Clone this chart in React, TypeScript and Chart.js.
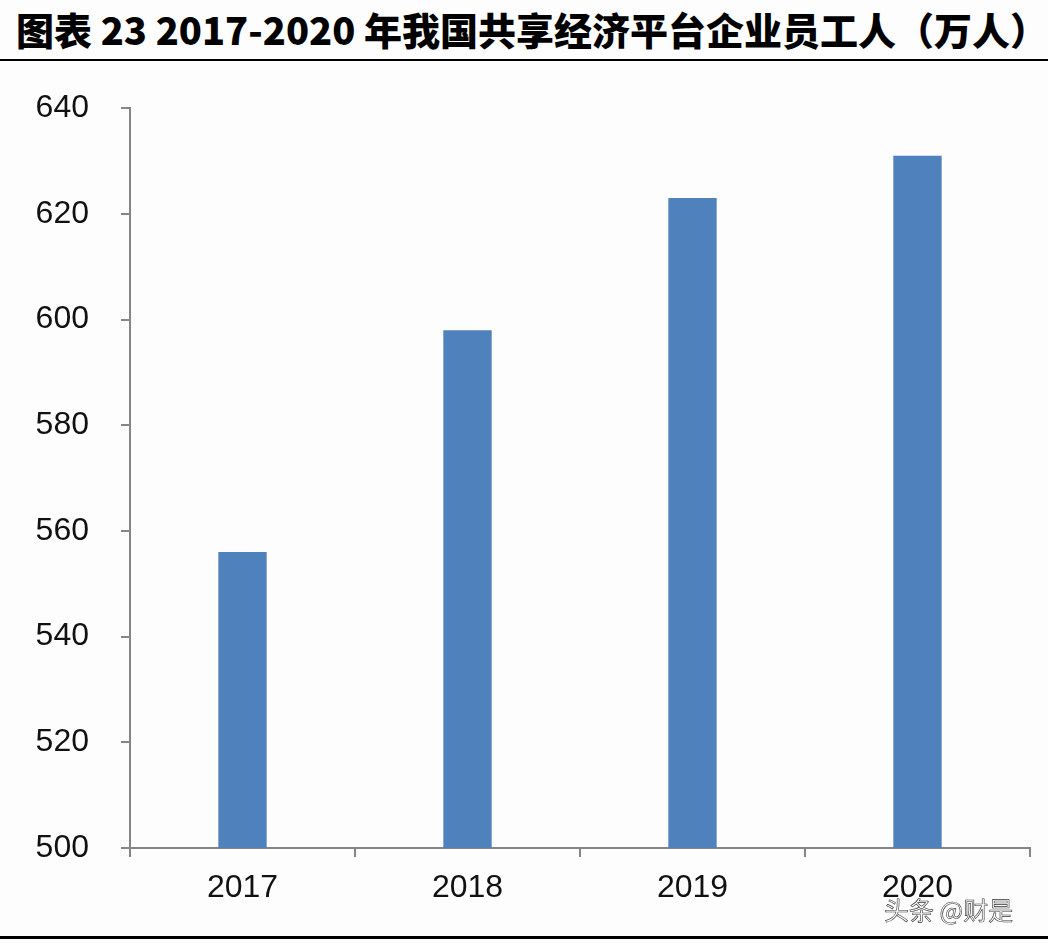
import { useEffect, useRef } from 'react'
import { Chart, registerables, type ChartConfiguration } from 'chart.js'

Chart.register(...registerables)

// 2017-2020 共享经济平台企业员工人数（万人）
const years = ['2017', '2018', '2019', '2020']
const staff = [556, 598, 623, 631]
const yTicks = [500, 520, 540, 560, 580, 600, 620, 640]

const AXIS = '#858585'
const FONT = '"Liberation Sans", Arial, sans-serif'

export default function App() {
  const canvasRef = useRef<HTMLCanvasElement>(null)

  useEffect(() => {
    document.body.style.margin = '0'
    if (!canvasRef.current) return

    const config: ChartConfiguration<'bar'> = {
      type: 'bar',
      data: {
        labels: years,
        datasets: [{
          label: '员工人数',
          data: staff,
          backgroundColor: '#4F81BD',
          borderWidth: 0,
          categoryPercentage: 1,
          barPercentage: 0.215,
        }],
      },
      options: {
        responsive: false,
        animation: false,
        layout: { padding: { top: 40, right: 18, left: 0, bottom: 0 } },
        scales: {
          x: {
            grid: { display: true, drawOnChartArea: false, offset: true, tickLength: 9, tickColor: AXIS, lineWidth: 2 },
            border: { color: AXIS, width: 2 },
            ticks: { color: '#111', font: { size: 32, family: FONT }, padding: 12 },
            afterFit: (s: any) => { s.height = 92 },
          },
          y: {
            min: yTicks[0],
            max: yTicks[yTicks.length - 1],
            afterBuildTicks: (s: any) => { s.ticks = yTicks.map(v => ({ value: v })) },
            grid: { display: true, drawOnChartArea: false, tickLength: 9, tickColor: AXIS, lineWidth: 2 },
            border: { color: AXIS, width: 2 },
            ticks: { color: '#111', font: { size: 32, family: FONT }, padding: 32 },
            afterFit: (s: any) => { s.width = 130 },
          },
        },
        plugins: {
          legend: { display: false },
          tooltip: { enabled: false },
        },
      },
    }
    const chart = new Chart(canvasRef.current, config)
    return () => { chart.destroy() }
  }, [])

  return (
    <div style={{ position: 'relative', width: 1048, height: 944, background: '#fdfdfe', overflow: 'hidden' }}>
      <div
        style={{
          position: 'absolute',
          left: 16,
          top: 4,
          fontFamily: '"Noto Sans CJK SC", sans-serif',
          fontWeight: 900,
          fontSize: 38,
          color: '#000',
          whiteSpace: 'nowrap',
          lineHeight: '50px',
        }}
      >
        图表 23 2017-2020 年我国共享经济平台企业员工人（万人）
      </div>
      <canvas ref={canvasRef} width={1048} height={883} style={{ position: 'absolute', left: 0, top: 57 }} />
      <div style={{ position: 'absolute', left: 0, top: 59, width: 1048, height: 2, background: '#000' }} />
      <div
        style={{
          position: 'absolute',
          left: 884,
          top: 892,
          fontFamily: '"Noto Sans CJK SC", sans-serif',
          fontSize: 25,
          color: '#fff',
          WebkitTextStroke: '0.6px #333',
          whiteSpace: 'nowrap',
          lineHeight: '34px',
        }}
      >
        头条 @财是
      </div>
      <div style={{ position: 'absolute', left: 0, top: 936, width: 1048, height: 3, background: '#000' }} />
    </div>
  )
}
